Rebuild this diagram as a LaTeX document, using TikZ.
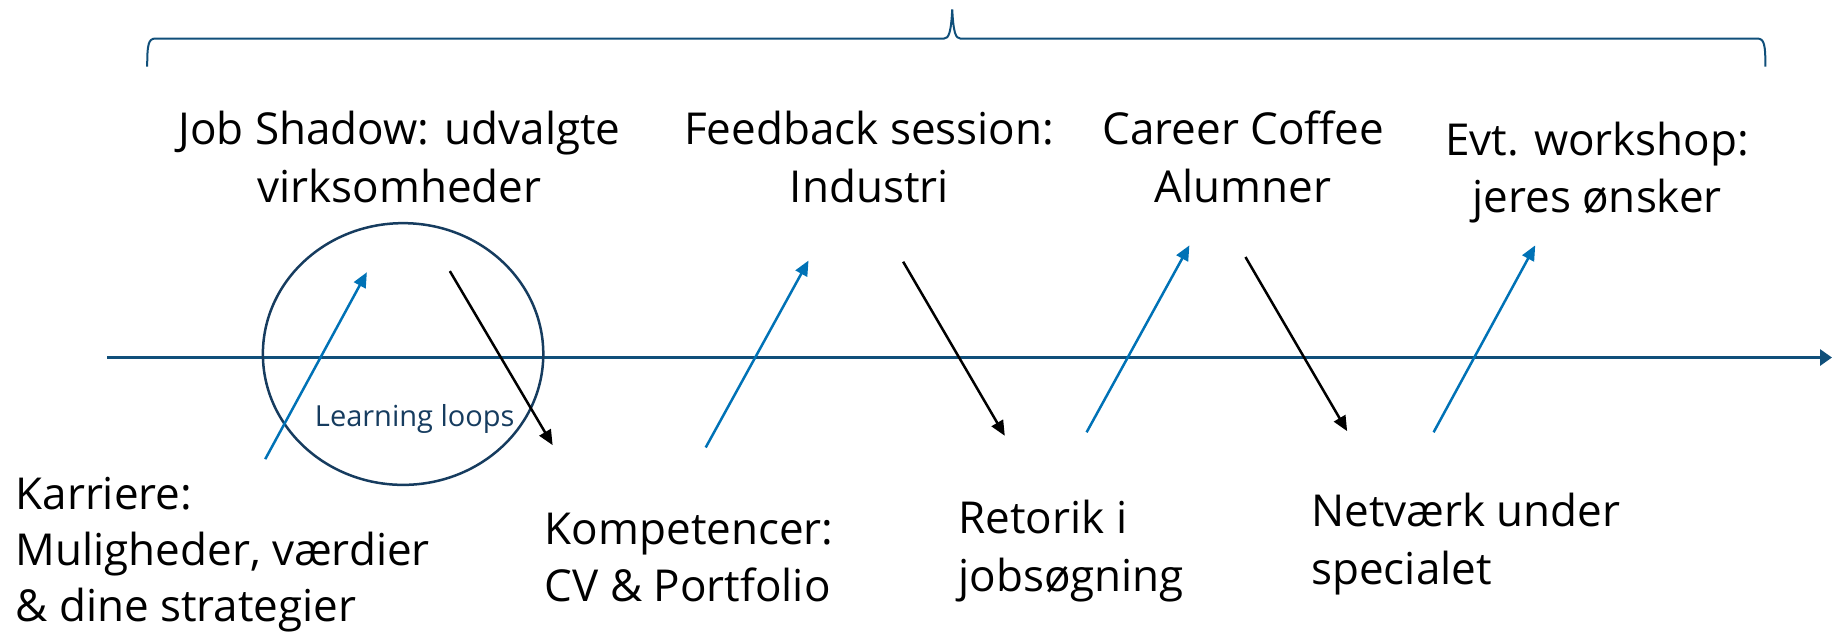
\documentclass[tikz,border=0pt]{standalone}
\usepackage{fontspec}
\setmainfont{Open Sans}
\usetikzlibrary{arrows.meta}
\definecolor{axisblue}{RGB}{16,79,122}
\definecolor{loopnavy}{RGB}{22,60,95}
\definecolor{arrowblue}{RGB}{0,114,182}
\newcommand{\lblock}[1]{\begin{tabular}[t]{@{}l@{}}#1\end{tabular}}
\newcommand{\cblock}[1]{\begin{tabular}[t]{@{}c@{}}#1\end{tabular}}
\begin{document}
\begin{tikzpicture}[x=0.5842pt,y=-0.5842pt,
  lbl/.style={inner sep=0pt, font=\fontsize{22}{28.6}\selectfont, text=black},
  upar/.style={draw=arrowblue, line width=1.25pt, -{Triangle[length=7.5pt,width=6.5pt]}},
  downar/.style={draw=black, line width=1.25pt, -{Triangle[length=7.5pt,width=6.5pt]}},
  axisline/.style={draw=axisblue, line width=1.65pt, -{Triangle[length=6pt,width=8pt]}},
  bracestyle/.style={draw=axisblue, line width=1pt},
  ]
\useasboundingbox (0,0) rectangle (1568,542);

% brace
\draw[bracestyle] (126,57) .. controls (126,38) and (127,33) .. (133,33) -- (808,33)
  .. controls (812,33) and (814,28) .. (815,8)
  .. controls (816,28) and (818,33) .. (822,33) -- (1504,33)
  .. controls (1510,33) and (1511,38) .. (1511,57);

% time axis
\coordinate (axL) at (92,306);
\coordinate (axR) at (1568,306);
\draw[axisline] (axL) -- (axR);

% learning loop
\draw[draw=loopnavy, line width=1.25pt] (345,303) ellipse [x radius=120, y radius=112];
\node[inner sep=0pt, anchor=base, text=loopnavy, font=\fontsize{14.5}{17}\selectfont] (loops) at (355,365) {Learning loops};

% arrow end points
\coordinate (u1s) at (227,393); \coordinate (u1e) at (314,233);
\coordinate (u2s) at (604,383); \coordinate (u2e) at (692,223);
\coordinate (u3s) at (930,370); \coordinate (u3e) at (1018,210);
\coordinate (u4s) at (1227,370); \coordinate (u4e) at (1314,210);
\coordinate (d1s) at (385,232); \coordinate (d1e) at (473,381);
\coordinate (d2s) at (773,224); \coordinate (d2e) at (860,373);
\coordinate (d3s) at (1066,220); \coordinate (d3e) at (1153,369);

\draw[upar] (u1s) -- (u1e);
\draw[upar] (u2s) -- (u2e);
\draw[upar] (u3s) -- (u3e);
\draw[upar] (u4s) -- (u4e);
\draw[downar] (d1s) -- (d1e);
\draw[downar] (d2s) -- (d2e);
\draw[downar] (d3s) -- (d3e);

% top labels
\node[lbl, anchor=base] (job) at (342,124) {\cblock{Job Shadow: udvalgte\\virksomheder}};
\node[lbl, anchor=base] (feed) at (744,124) {\cblock{Feedback session:\\Industri}};
\node[lbl, anchor=base] (coffee) at (1064,124) {\cblock{Career Coffee\\Alumner}};
\node[lbl, anchor=base] (evt) at (1367,133) {\cblock{Evt. workshop:\\jeres ønsker}};

% bottom labels
\node[lbl, anchor=base west, font=\fontsize{22}{28}\selectfont] (karr) at (13,436) {\lblock{Karriere:\\Muligheder, værdier\\\& dine strategier}};
\node[lbl, anchor=base west] (komp) at (466,466) {\lblock{Kompetencer:\\CV \& Portfolio}};
\node[lbl, anchor=base west] (reto) at (820,457) {\lblock{Retorik i\\jobsøgning}};
\node[lbl, anchor=base west] (netv) at (1122,451) {\lblock{Netværk under\\specialet}};
\end{tikzpicture}
\end{document}
